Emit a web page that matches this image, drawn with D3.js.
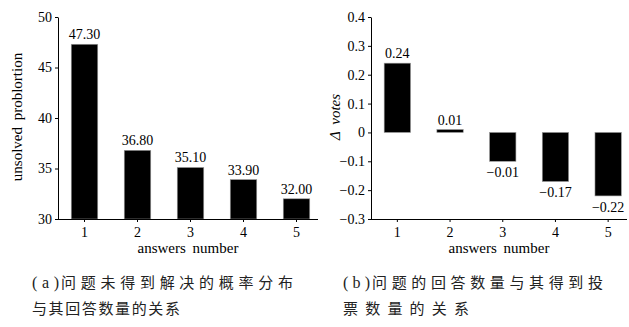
<!DOCTYPE html>
<html><head><meta charset="utf-8">
<script src="https://cdn.jsdelivr.net/npm/d3@7/dist/d3.min.js"></script>
<style>body{margin:0;background:#fff}svg{display:block}</style>
</head><body>
<svg id="c" width="629" height="327"></svg>
<script>
const categories = [1, 2, 3, 4, 5];
const unsolvedValues = [47.30, 36.80, 35.10, 33.90, 32.00];
const unsolvedLabels = ["47.30", "36.80", "35.10", "33.90", "32.00"];
const unsolvedTicks = [30, 35, 40, 45, 50];
const voteValues = [0.24, 0.01, -0.10, -0.17, -0.22];
const voteLabels = ["0.24", "0.01", "\u22120.01", "\u22120.17", "\u22120.22"];
const voteTicks = [-0.3, -0.2, -0.1, 0, 0.1, 0.2, 0.3, 0.4];
const xTitle = "answers number";
const captionA = [["(a)", "问题未得到解决的概率分布"], ["", "与其回答数量的关系"]];
const captionB = [["(b)", "问题的回答数量与其得到投"], ["", "票数量的关系"]];

const svg = d3.select("#c");
const serif = "'Liberation Serif', 'DejaVu Serif', serif";
const cjk = "'Noto Sans CJK SC', sans-serif";

function fmtTick(v){
  if (v === 0) return "0";
  const s = Math.abs(v) >= 1 ? String(v) : d3.format(".1f")(v);
  return s.replace("-", "\u2212");
}

function panel(opt){
  const g = svg.append("g");
  const x = d3.scaleBand().domain(categories).range(opt.xr).paddingInner(0.5).paddingOuter(0.25);
  const y = d3.scaleLinear().domain(opt.yd).range([219, 17]);
  const base = opt.base;
  g.selectAll("rect.bar").data(opt.values).join("rect")
    .attr("x", (d,i)=>x(categories[i]))
    .attr("width", x.bandwidth())
    .attr("y", d=>Math.min(y(d), y(base)))
    .attr("height", d=>Math.abs(y(d)-y(base)))
    .attr("fill", "#000").attr("stroke", "#999").attr("stroke-width", 0.6);
  g.selectAll("text.val").data(opt.values).join("text")
    .attr("x", (d,i)=>x(categories[i]) + x.bandwidth()/2)
    .attr("y", d=> d >= base ? y(d) - 5 : y(d) + 16)
    .attr("text-anchor", "middle")
    .attr("font-family", serif).attr("font-size", 14)
    .text((d,i)=>opt.labels[i]);
  const ya = g.append("g").attr("transform", `translate(${opt.xr[0]},0)`)
    .call(d3.axisLeft(y).tickValues(opt.ticks).tickSize(3).tickSizeOuter(0).tickFormat(fmtTick));
  ya.selectAll("text").attr("font-family", serif).attr("font-size", 14).attr("fill", "#000");
  ya.selectAll("line,path").attr("stroke", "#000");
  const xa = g.append("g").attr("transform", "translate(0,219)")
    .call(d3.axisBottom(x).tickSize(3).tickSizeOuter(0));
  xa.select("path.domain").remove();
  xa.append("line").attr("x1", opt.xr[0]).attr("x2", opt.xEnd).attr("y1", 0.5).attr("y2", 0.5).attr("stroke", "#000");
  xa.selectAll("text").attr("font-family", serif).attr("font-size", 14).attr("fill", "#000").attr("dy", "0.85em");
  xa.selectAll("line").attr("stroke", "#000");
  g.append("text").attr("x", (opt.xr[0] + opt.xEnd)/2).attr("y", 253)
    .attr("text-anchor", "middle").attr("font-family", serif).attr("font-size", 15)
    .attr("word-spacing", "3px").text(xTitle);
  g.append("text").attr("transform", `translate(${opt.yTitleX},117) rotate(-90)`)
    .attr("text-anchor", "middle").attr("font-family", serif).attr("font-size", 15)
    .attr("font-style", opt.italic ? "italic" : "normal")
    .attr("word-spacing", "3px").text(opt.yTitle);
  opt.caption.forEach((pair,i)=>{
    const yy = 288 + i*26;
    if (pair[0]) {
      g.append("text").attr("x", opt.capX).attr("y", yy)
        .attr("font-family", serif).attr("font-size", 16).attr("fill", "#222")
        .attr("textLength", 27).attr("lengthAdjust", "spacing").text(pair[0]);
    }
    const off = pair[0] ? 29 : 0;
    g.append("text").attr("x", opt.capX + off).attr("y", yy)
      .attr("font-family", cjk).attr("font-size", 15).attr("fill", "#222")
      .attr("textLength", opt.capLen[i]).attr("lengthAdjust", "spacing")
      .text(pair[1]);
  });
}

panel({xr:[58, 323], xEnd:318, yd:[30,50], base:30, values:unsolvedValues, labels:unsolvedLabels,
  ticks:unsolvedTicks, yTitle:"unsolved problortion", yTitleX:22, italic:false,
  caption:captionA, capX:32, capLen:[232, 148]});
panel({xr:[371, 634.5], xEnd:627, yd:[-0.3,0.4], base:0, values:voteValues, labels:voteLabels,
  ticks:voteTicks, yTitle:"\u0394 votes", yTitleX:340, italic:true,
  caption:captionB, capX:343, capLen:[231, 126]});
</script>
</body></html>
